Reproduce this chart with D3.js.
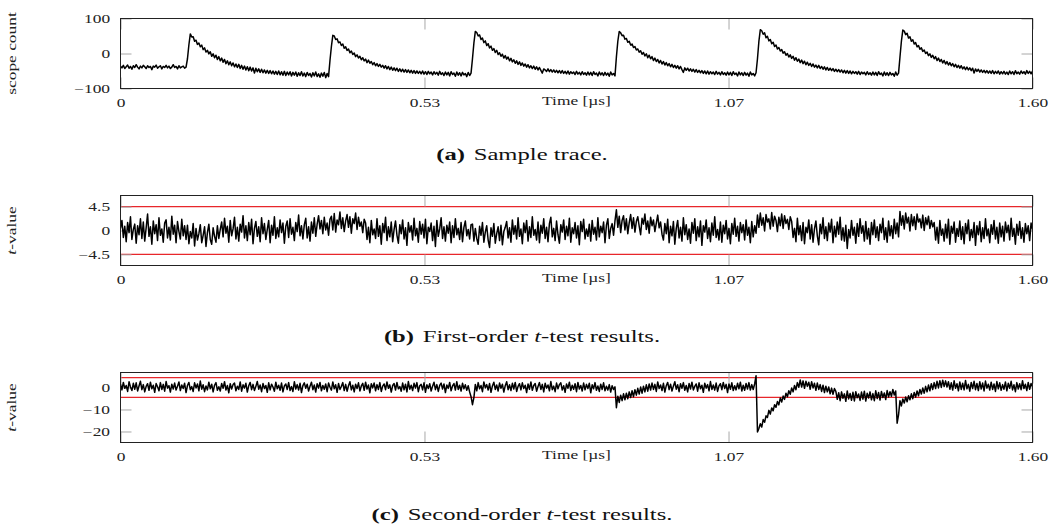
<!DOCTYPE html>
<html>
<head>
<meta charset="utf-8">
<script src="https://cdn.jsdelivr.net/npm/d3@7"></script>
<style>
  body { margin: 0; background: #fff; }
  svg { display: block; }
</style>
</head>
<body>
<div id="chart"></div>
<script>
// time axis (µs), samples are every tStep
const tStep = 0.0025;
const xTicks = [0, 0.5333, 1.0667, 1.6];
const xTickLabels = ["0", "0.53", "1.07", "1.60"];

// (a) scope trace
const traceA = [
  -36,-41,-34,-43,-38,-33,-42,-37,-45,-35,-40,-32,-39,-44,-36,-41,-34,-38,-43,-35,
  -40,-37,-46,-36,-39,-33,-42,-38,-35,-44,-37,-40,-34,-41,-36,-43,-39,-32,-40,-37,
  -44,-35,-41,-38,-36,-42,-39,
  -15,25,
  56,47,48,35,38,26,30,19,24,11,16,4,9,-1,5,-8,-1,-12,-5,-17,-9,-21,-13,-25,-17,-29,-21,-32,-24,-35,
  -27,-38,-30,-40,-31,-43,-34,-45,-36,-47,-38,-49,-39,-50,-41,-56,-42,-52,-44,-54,-45,-55,-47,-56,-48,-57,-49,-58,-50,-59,
  -51,-60,-50,-61,-52,-62,-51,-63,-53,-61,-52,-64,-54,-62,-53,-65,-55,-63,-52,-64,-56,-66,-54,-63,-57,-67,-55,-64,-53,-66,
  -58,-68,-56,-65,-54,-69,-57,-66,
  -20,20,
  52,50,40,42,31,33,23,27,15,19,9,13,2,7,-3,1,-9,-4,-13,-8,-18,-12,-21,-16,-26,-19,-28,-23,-32,-26,
  -35,-29,-37,-31,-39,-34,-42,-35,-44,-37,-46,-39,-48,-41,-49,-42,-51,-44,-52,-45,-53,-46,-54,-47,-55,-48,-56,-49,-57,-50,
  -57,-51,-58,-50,-59,-52,-60,-51,-58,-53,-61,-52,-59,-54,-62,-51,-60,-55,-63,-53,-61,-54,-64,-52,-60,-56,-65,-53,-62,-55,
  -64,-54,-61,-57,-66,-54,-63,-56,
  -15,30,
  63,60,50,53,40,44,31,36,23,28,16,21,9,14,3,9,-3,2,-8,-2,-13,-6,-16,-10,-21,-14,-24,-18,-28,-21,
  -31,-24,-34,-27,-36,-30,-39,-32,-41,-35,-43,-36,-45,-38,-47,-40,-48,-56,-44,-47,-51,-44,-52,-46,-53,-47,-54,-48,-55,-49,
  -56,-49,-57,-51,-58,-50,-59,-52,-57,-53,-60,-51,-59,-54,-61,-52,-60,-55,-62,-53,-61,-54,-63,-52,-60,-56,-64,-53,-61,-55,
  -63,-54,-62,-56,-65,-53,-61,-57,-64,
  -10,35,
  63,59,51,52,41,43,32,35,24,27,17,20,10,13,4,8,-2,3,-7,-1,-12,-5,-15,-9,-20,-13,-23,-17,-27,-20,
  -30,-23,-33,-26,-35,-29,-38,-31,-40,-34,-42,-35,-44,-37,-46,-54,-41,-48,-42,-50,-44,-51,-45,-53,-46,-54,-48,-55,-49,-57,
  -50,-58,-50,-59,-52,-58,-53,-60,-51,-59,-54,-61,-52,-60,-55,-62,-53,-61,-54,-63,-52,-60,-56,-64,-53,-61,-55,-63,-54,-62,
  -56,-65,-53,-61,-57,-64,-55,
  -15,35,
  68,65,55,59,45,49,36,40,28,32,20,24,13,17,7,11,1,5,-5,0,-10,-4,-14,-8,-19,-12,-22,-16,-26,-19,
  -29,-22,-32,-25,-34,-28,-37,-30,-39,-33,-41,-34,-43,-37,-45,-38,-47,-40,-48,-42,-49,-43,-51,-45,-52,-46,-53,-47,-55,-48,
  -56,-49,-57,-50,-58,-51,-57,-52,-59,-51,-60,-53,-58,-54,-61,-52,-60,-55,-62,-53,-61,-54,-63,-52,-60,-56,-64,-53,-62,-55,
  -63,-54,-61,-57,-65,-53,-62,-56,
  -10,35,
  67,64,54,58,44,48,35,39,27,31,19,23,12,16,6,10,0,4,-6,-1,-11,-5,-15,-9,-20,-13,-23,-17,-27,-20,
  -30,-23,-33,-26,-35,-29,-38,-31,-40,-34,-42,-35,-44,-38,-46,-39,-47,-41,-49,-42,-56,-44,-51,-45,-53,-47,-54,-48,-55,-49,
  -56,-50,-57,-49,-58,-51,-57,-50,-59,-52,-58,-51,-59,-53,-60,-50,-58,-52,-60,-49,-58,-53,-59,-50,-57,-52,-59,-49,-57,-51,
  -58,-50
];

// (b) first-order t-values
const tFirst = [
  0.4,1.9,-1.3,0.8,-2.1,1.5,-0.4,2.6,-1.7,0.2,1.2,-2.4,0.9,-0.8,2.2,-1.5,1.6,-2.0,0.5,3.1,
  -1.1,0.7,-2.6,1.8,-0.6,1.1,-1.9,2.4,-0.9,0.3,-2.2,1.4,2.0,-1.4,0.6,-1.8,2.7,-0.7,1.0,-2.3,
  1.7,-0.2,-1.6,2.1,-1.0,0.9,-1.7,
  1.0,-2.5,-0.2,-1.4,1.3,-2.9,0.4,-1.8,-0.6,1.1,-2.3,-0.9,0.7,-3.0,-0.4,1.2,-1.7,-2.6,0.5,-1.1,-2.2,0.9,-1.5,0.2,
  1.6,-1.2,2.3,-0.5,0.8,-2.2,1.9,-1.0,0.3,2.5,-1.6,0.6,-2.0,1.2,-0.3,2.8,-1.4,0.9,-1.9,1.5,
  -0.8,2.1,-2.5,0.4,1.7,-1.1,0.7,-2.1,2.4,-0.6,1.3,-1.7,0.2,1.9,-2.3,1.0,-0.9,2.6,-1.5,0.5,
  -1.2,2.0,-0.4,1.4,-2.4,0.8,1.8,-1.3,2.2,-0.7,0.6,-1.9,1.5,-0.2,2.9,-1.0,0.9,-1.6,1.1,2.3,
  -1.4,0.7,-2.0,1.6,-0.5,2.4,-1.1,1.2,2.8,0.3,1.9,-0.6,2.5,0.1,1.4,-0.9,2.1,
  2.7,0.1,3.2,-0.3,2.0,1.1,3.5,0.4,2.4,-0.2,1.8,3.0,0.6,2.6,-0.5,2.2,1.3,3.3,0.2,2.5,0.8,1.6,-0.4,2.1,
  1.4,-1.7,0.6,-2.3,1.9,-0.8,0.3,-1.5,2.2,-1.1,0.9,-2.6,1.3,-0.4,2.5,-1.9,0.7,-1.2,1.6,-2.1,
  0.2,1.8,-0.9,-2.4,1.1,-0.6,2.0,-1.6,0.5,-2.8,1.5,-0.3,0.9,-1.8,2.3,-1.0,0.4,-2.2,1.7,-0.7,
  1.2,-1.4,2.1,-2.5,0.6,-0.2,1.4,-1.9,0.8,-3.0,1.9,-1.1,0.3,2.4,-1.5,0.7,-2.0,1.0,-0.5,1.6,
  -2.3,0.9,-1.3,2.2,-0.8,0.4,-1.7,1.5,-2.1,0.6,1.8,-1.0,0.2,-1.6,1.1,
  1.2,-2.0,0.4,-1.5,-2.6,0.8,-0.9,1.5,-2.2,-0.3,0.9,-1.8,-3.2,0.5,-1.1,1.3,-2.4,-0.6,0.7,-1.9,1.0,-2.7,-0.2,0.6,
  1.7,-1.4,0.5,-2.2,2.0,-0.7,0.9,-1.6,2.4,-1.1,0.3,-2.5,1.4,-0.4,1.9,-2.0,0.7,-1.3,2.6,-0.9,
  0.2,-1.8,1.6,-2.3,1.0,-0.5,2.2,-1.5,0.6,-2.1,1.3,2.5,-1.2,0.4,-1.9,1.8,-0.8,-2.4,1.1,-0.3,
  2.0,-1.7,0.8,-1.0,2.3,-2.2,0.5,-0.6,1.5,-1.4,0.9,-2.7,1.7,-0.2,2.1,-1.6,0.3,-1.1,1.2,-2.0,
  1.9,-0.7,0.6,-1.8,2.4,-1.2,0.8,-0.4,1.6,-2.3,1.0,2.2,-1.5,0.4,1.3,-0.9,1.8,
  3.9,0.6,2.7,-0.4,1.9,2.8,0.1,2.2,-0.6,1.5,3.0,0.4,2.4,-0.3,1.7,2.6,0.8,-0.8,2.3,1.2,
  3.1,0.2,1.8,-0.5,2.5,0.9,2.0,-0.2,1.4,2.9,0.5,1.6,-0.7,
  -1.8,1.3,-0.6,2.1,-2.3,0.8,-1.0,1.7,-2.6,0.4,1.9,-1.4,0.6,-2.0,2.4,-0.8,1.1,-1.7,0.3,-2.4,
  1.5,-0.5,2.2,-1.9,0.7,-1.2,1.8,-2.8,0.9,-0.3,2.0,-1.5,0.5,-2.1,1.4,-0.9,2.6,-1.3,0.2,-1.8,
  1.6,-2.2,1.0,-0.6,1.9,-1.6,0.4,-2.5,1.3,-0.7,2.3,-1.1,0.8,-2.0,1.5,-0.4,1.1,-1.8,2.0,-0.9,
  0.6,-2.3,1.7,-1.2,0.9,-0.5,
  2.9,0.6,3.3,1.0,2.4,-0.1,3.0,1.6,2.2,0.3,3.4,0.8,2.7,1.9,-0.2,2.5,0.9,3.1,0.4,2.8,1.3,2.1,0.2,2.6,
  1.7,-1.3,0.4,-2.1,2.3,-0.8,0.9,-1.9,1.5,-2.5,0.6,-0.4,2.0,-1.6,1.1,-2.2,0.3,1.8,-1.0,-2.7,
  1.2,-0.6,2.4,-1.5,0.7,-1.9,1.4,-0.3,2.1,-2.3,0.8,-1.2,1.6,-0.7,2.5,-1.8,0.5,-2.0,1.0,-3.4,
  0.2,-1.4,1.9,-0.9,0.6,-2.4,1.3,-1.1,2.2,-0.5,0.9,-2.0,1.7,-1.6,0.4,-2.6,1.5,-0.8,2.0,-1.3,
  0.7,-1.9,1.2,-0.4,2.3,-1.7,0.5,-2.2,1.8,-1.0,0.9,-1.5,2.1,-0.6,1.4,-1.2,
  3.6,1.0,2.8,0.3,3.3,1.4,2.5,-0.1,3.0,0.9,2.6,0.2,3.1,1.6,2.2,0.5,2.9,0.0,2.4,1.1,2.7,0.4,1.9,0.7,
  1.5,-1.8,0.6,-2.4,1.9,-0.9,0.3,-2.0,1.2,-1.4,2.1,-2.6,0.8,-0.5,1.6,-2.2,0.4,-1.1,1.8,-1.7,
  0.7,-2.5,1.3,-0.6,2.0,-1.9,0.2,-1.3,1.5,-2.8,0.9,-0.8,1.7,-2.1,0.5,-1.5,2.2,-1.0,0.3,-2.3,
  1.1,-0.7,1.9,-1.6,0.6,-2.4,1.4,-1.2,0.8,-2.0,1.6,-0.4,1.0,-1.8,2.3,-1.1,0.4,-2.6,1.2,-0.9,
  1.7,-1.5,0.5,-2.2,1.3,-0.6,0.9,-1.9,1.4,0.2
];

// (c) second-order t-values
const tSecond = [
  1.6,-1.1,2.3,-0.4,0.9,-1.8,2.6,0.2,-1.4,1.9,-0.8,2.1,-1.6,0.7,2.8,-1.0,1.3,-2.0,0.5,1.7,
  -1.3,2.4,-0.6,1.0,-2.2,1.8,0.3,-1.5,2.2,-0.9,1.4,-1.7,2.7,-0.3,0.8,-2.1,1.5,-0.7,2.0,-1.2,
  0.6,2.5,-1.4,1.1,-0.5,1.9,-2.3,0.9,2.3,-1.0,0.4,-1.8,2.1,-0.2,1.6,-1.5,2.9,-0.8,1.2,-1.9,
  0.7,-1.1,2.4,-0.6,1.5,-2.0,1.0,2.2,-1.3,0.3,-1.6,1.8,-0.4,2.6,-1.2,0.9,-2.4,1.7,-0.7,1.3,
  2.0,-1.5,0.6,-0.9,2.5,-1.7,1.2,-0.3,1.9,-2.1,0.8,2.3,-1.0,1.4,-1.4,0.5,2.7,-0.8,1.1,-1.9,
  1.8,-0.5,0.9,-2.2,2.1,-1.1,1.5,0.2,-1.7,2.4,-0.6,1.0,-1.3,2.0,-2.0,0.7,1.6,-0.9,2.2,-1.4,
  0.4,-1.8,2.6,-0.7,1.3,-1.2,1.9,-2.3,0.8,2.1,-0.4,1.5,-1.6,0.6,2.4,-1.0,1.1,-2.1,1.7,-0.3,
  2.3,-1.5,0.9,-0.8,1.6,-1.9,2.0,0.1,-1.2,2.5,-0.6,1.2,-2.2,1.8,-0.9,0.5,2.2,-1.4,1.4,-1.7,
  0.8,2.6,-1.1,1.0,-2.0,1.5,-0.5,2.1,-1.6,0.7,1.9,-1.3,2.4,-0.7,1.1,-2.4,1.7,-0.2,2.0,-1.5,
  1.3,-0.9,2.2,-1.8,0.6,1.6,-1.0,2.5,-0.4,1.2,-2.1,0.9,1.8,-1.2,2.3,-0.6,0.4,-1.7,2.0,-1.1,
  1.5,-2.0,2.7,-0.8,1.0,-1.4,1.9,-0.3,2.2,-1.9,0.8,1.4,-1.1,2.1,-2.2,1.2,-0.5,1.7,-1.6,0.6,
  2.4,-1.0,1.3,-1.8,0.9,2.0,-0.7,1.6,-2.3,1.1,-0.4,2.3,-1.5,0.7,1.8,-1.2,2.6,-0.9,1.0,-1.6,
  1.9,-0.6,1.2,-1.3,0.8,-2.0,
  -4.2,-7.8,-4.6,
  1.4,-1.5,2.2,-0.6,0.9,-1.9,2.5,-0.2,1.3,-1.2,1.8,-2.2,0.7,2.4,-0.9,1.1,-1.6,2.0,-0.4,1.5,
  -2.1,0.8,2.6,-1.0,1.2,-1.4,1.9,-0.7,2.3,-1.8,0.5,1.7,-1.1,2.1,-0.5,1.0,-2.3,1.6,-0.8,2.5,
  -1.3,0.9,1.8,-1.7,0.4,2.2,-0.9,1.4,-2.0,1.9,-0.3,1.1,-1.5,2.7,-1.0,0.6,-1.9,2.0,-0.6,1.3,
  2.1,-1.2,0.8,-2.2,1.6,-0.4,2.4,-1.4,1.0,-0.8,1.7,-1.9,2.3,-0.7,0.9,-1.6,2.0,-1.1,1.4,-0.5,
  1.9,-2.4,1.2,-0.6,2.2,-1.3,0.7,-1.8,1.5,-0.9,2.1,-1.5,0.6,-1.2,1.3,-2.1,0.8,-0.9,0.3,
  -9.2,
  -4.0,-6.8,-3.5,-6.0,-2.9,-5.6,-2.6,-5.1,-2.0,-4.6,-1.5,-4.2,-1.0,-3.5,-0.4,-3.0,0.2,-2.6,0.6,-2.0,1.2,-1.7,1.6,-1.2,
  2.0,-0.9,1.4,-1.8,2.5,-0.5,1.1,-1.4,1.9,-2.1,0.8,2.3,-1.0,1.5,-1.6,0.6,2.6,-0.8,1.2,-1.9,
  1.7,-0.4,2.2,-1.3,0.9,-2.0,1.8,-0.7,2.4,-1.1,0.5,1.6,-1.7,2.1,-0.6,1.0,-2.2,1.9,-0.3,1.3,
  -1.5,2.7,-0.9,1.1,-1.2,2.0,-1.8,0.7,1.7,-1.0,2.3,-0.5,1.4,-2.3,1.6,-0.8,2.1,-1.4,0.8,-1.1,
  1.9,-0.6,2.4,-1.6,1.0,-1.3,1.8,-0.7,2.2,-1.2,1.3,-0.9,1.6,
  5.3,
  -20.2,-18.6,
  -16.5,-18.0,-14.6,-15.8,-12.9,-13.6,-10.4,-12.1,-9.3,-10.6,-7.8,-9.0,-6.4,-7.9,-4.8,-6.6,-3.9,-5.4,-2.6,-4.2,
  -1.5,-3.1,-0.2,-2.0,0.9,-1.0,2.2,0.1,
  3.4,0.2,3.0,-0.4,2.8,0.5,2.4,-0.8,2.6,-0.2,1.9,-1.3,2.0,-0.9,1.3,-1.8,1.0,-2.3,0.6,-2.0,0.2,-2.9,-0.3,-3.1,-0.5,
  -1.8,-5.4,-2.4,-6.0,-2.0,-4.9,-2.9,-6.3,-1.6,-5.2,-2.7,-5.8,-2.2,-6.1,-1.9,-4.7,-3.0,-5.9,-2.1,-5.3,
  -1.7,-6.2,-2.6,-4.8,-2.0,-5.6,-2.8,-6.0,-1.5,-5.0,-2.3,-5.7,-1.8,-4.6,-2.5,-5.5,-1.4,-4.3,-1.9,-4.0,
  -0.9,-3.4,-1.6,
  -16.2,-12.5,
  -6.0,-8.4,-5.2,-7.1,-4.3,-6.5,-3.8,-5.6,-2.9,-5.1,-2.3,-4.4,-1.6,-3.8,-0.9,-3.0,-0.2,-2.6,0.5,-2.0,
  1.1,-1.5,1.7,-0.9,2.2,-0.5,2.8,-0.2,3.1,0.0,3.3,0.4,3.0,0.2,
  2.6,-0.8,2.1,-1.2,3.0,-0.4,1.7,-1.5,2.5,-0.9,1.9,-1.1,3.2,-0.6,1.4,-1.7,2.3,-0.5,2.8,-1.0,
  1.8,-1.4,2.6,-0.7,2.0,-1.6,2.9,-0.3,1.5,-1.2,2.4,-0.9,1.6,-1.8,2.7,-0.6,2.1,-1.3,1.3,-0.8,
  2.5,-1.5,1.9,-0.4,2.8,-1.1,1.2,-1.9,2.2,-0.7,1.7,-1.0,3.1,-0.5,1.5,-1.4,2.3,-0.8,1.8,0.3
];

const threshold = [-4.5, 4.5];

const W = 1053, H = 528;
const sx = 1.45;           // the figure's text is stretched horizontally
const font = "'Liberation Serif', 'Times New Roman', serif";

const panels = [
  { values: traceA, domain: [-100, 100], yTicks: [-100, 0, 100], yLabels: ["\u2212100", "0", "100"],
    top: 18.5, title: [["scope count", "normal"]], lines: [], lw: 1.5,
    cap: ["(a)", "Sample trace."], capY: 156 },
  { values: tFirst, domain: [-6.6, 6.6], yTicks: [-4.5, 0, 4.5], yLabels: ["\u22124.5", "0", "4.5"],
    top: 195.5, title: [["t", "italic"], ["-value", "normal"]], lines: threshold, lw: 1.5,
    cap: ["(b)", "First-order ", "t", "-test results."], capY: 338 },
  { values: tSecond, domain: [-25, 6.8], yTicks: [-20, -10, 0], yLabels: ["\u221220", "\u221210", "0"],
    top: 372.5, title: [["t", "italic"], ["-value", "normal"]], lines: threshold, lw: 1.5,
    cap: ["(c)", "Second-order ", "t", "-test results."], capY: 516 }
];

const svg = d3.select("#chart").append("svg")
  .attr("width", W).attr("height", H);

const x = d3.scaleLinear().domain([0, 1.6]).range([120.5, 1032.5]);
const plotH = 70;

panels.forEach((p, k) => {
  const bottom = p.top + plotH;
  const y = d3.scaleLinear().domain(p.domain).range([bottom, p.top]);
  const g = svg.append("g");

  g.append("clipPath").attr("id", "clip" + k)
    .append("rect").attr("x", x(0)).attr("y", p.top)
    .attr("width", x(1.6) - x(0)).attr("height", plotH);

  // red threshold lines
  g.selectAll(".thr").data(p.lines).join("line")
    .attr("x1", x(0)).attr("x2", x(1.6))
    .attr("y1", d => y(d)).attr("y2", d => y(d))
    .attr("stroke", "#e8262b").attr("stroke-width", 1.3);

  const styleAxis = sel => {
    sel.select(".domain").remove();
    sel.selectAll(".tick line").attr("stroke", "#a8a8a8");
    sel.selectAll("text")
      .attr("font-family", font).attr("font-size", 12).attr("fill", "#222");
  };

  // inward ticks on all four sides
  g.append("g").attr("transform", `translate(0,${bottom})`)
    .call(d3.axisBottom(x).tickValues(xTicks).tickSize(-11).tickPadding(9.5)
      .tickFormat((d, i) => xTickLabels[i]))
    .call(styleAxis)
    .call(a => a.selectAll("text").attr("transform", `scale(${sx},1)`));

  g.append("g").attr("transform", `translate(0,${p.top})`)
    .call(d3.axisTop(x).tickValues(xTicks).tickSize(-11).tickFormat(""))
    .call(styleAxis);

  g.append("g").attr("transform", `translate(${x(0)},0)`)
    .call(d3.axisLeft(y).tickValues(p.yTicks).tickSize(-11).tickPadding(7.2)
      .tickFormat((d, i) => p.yLabels[i]))
    .call(styleAxis)
    .call(a => a.selectAll("text").attr("transform", `scale(${sx},1)`));

  g.append("g").attr("transform", `translate(${x(1.6)},0)`)
    .call(d3.axisRight(y).tickValues(p.yTicks).tickSize(-11).tickFormat(""))
    .call(styleAxis);

  // the trace
  g.append("path")
    .datum(p.values)
    .attr("clip-path", `url(#clip${k})`)
    .attr("fill", "none")
    .attr("stroke", "#000")
    .attr("stroke-width", p.lw)
    .attr("stroke-linejoin", "round")
    .attr("d", d3.line()
      .x((d, i) => x(i * tStep))
      .y(d => y(d)));

  // frame
  g.append("rect")
    .attr("x", x(0)).attr("y", p.top)
    .attr("width", x(1.6) - x(0)).attr("height", plotH)
    .attr("fill", "none").attr("stroke", "#222").attr("stroke-width", 1);

  // x title
  g.append("text")
    .attr("transform", `translate(${(x(0) + x(1.6)) / 2},${bottom + 14}) scale(${sx},1)`)
    .attr("text-anchor", "middle").attr("dominant-baseline", "middle")
    .attr("font-family", font).attr("font-size", 12).attr("fill", "#222")
    .text("Time [\u00b5s]");

  // y title
  const yt = g.append("text")
    .attr("transform", `translate(14,${(p.top + bottom) / 2}) rotate(-90) scale(${sx},1)`)
    .attr("text-anchor", "middle").attr("dominant-baseline", "middle")
    .attr("font-family", font).attr("font-size", 12).attr("fill", "#222");
  p.title.forEach(([s, st]) => yt.append("tspan").attr("font-style", st).text(s));

  // caption
  const ct = g.append("text")
    .attr("transform", `translate(522,${p.capY}) scale(${sx},1)`)
    .attr("text-anchor", "middle").attr("dominant-baseline", "middle")
    .attr("font-family", font).attr("font-size", 17).attr("fill", "#111");
  p.cap.forEach((s, i) => {
    const ts = ct.append("tspan").text(s);
    if (i === 0) ts.attr("font-weight", "bold");
    if (i === 1) ts.attr("dx", 6);
    if (s === "t") ts.attr("font-style", "italic");
  });
});
</script>
</body>
</html>
